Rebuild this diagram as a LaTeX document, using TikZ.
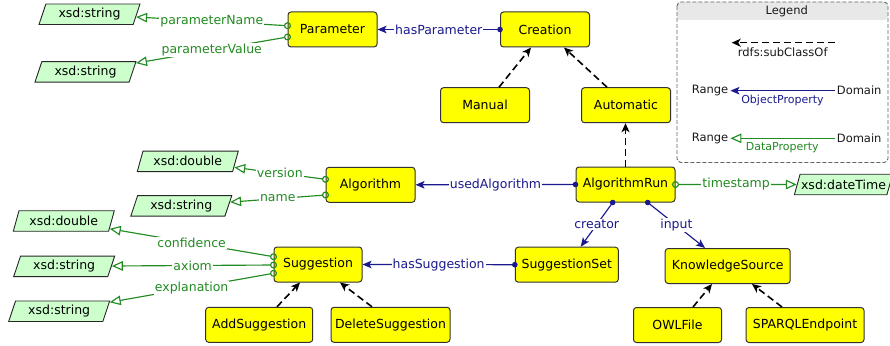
\documentclass[tikz,border=0pt]{standalone}
\usepackage{fontspec}
\setmainfont{DejaVu Sans}
\usetikzlibrary{arrows.meta,shapes.geometric}

\definecolor{classfill}{RGB}{255,255,0}
\definecolor{classdraw}{RGB}{50,50,50}
\definecolor{dtfill}{RGB}{204,255,204}
\definecolor{objcol}{RGB}{26,26,140}
\definecolor{datcol}{RGB}{34,139,34}
\definecolor{legframe}{RGB}{100,100,100}
\definecolor{legband}{RGB}{232,232,232}

\newcommand{\mainfs}{\fontsize{12.5}{15}\selectfont}
\newcommand{\legfs}{\fontsize{11.5}{14}\selectfont}
\newcommand{\legsm}{\fontsize{11}{13}\selectfont}

\tikzset{
  cls/.style={draw=classdraw, fill=classfill, rounded corners=3pt, line width=1pt,
    minimum height=35pt, inner sep=2pt, font=\mainfs},
  dtype/.style={trapezium, trapezium left angle=64, trapezium right angle=116,
    trapezium stretches body, draw=black!85, fill=dtfill, line width=0.9pt,
    minimum width=101pt, minimum height=20.5pt, inner sep=1pt, font=\mainfs},
  objprop/.style={draw=objcol, line width=1.15pt,
    arrows={Circle[length=5.5pt]-Stealth[length=9pt,width=7.5pt,inset=2pt]},
    shorten <=-2.75pt},
  datprop/.style={draw=datcol, line width=1.15pt,
    arrows={Circle[open,length=7pt]-Triangle[open,length=11pt,width=9.5pt]},
    shorten <=-3.5pt},
  subcl/.style={draw=black, line width=1.6pt, dash pattern=on 7pt off 4pt,
    -{Stealth[length=9pt,width=8pt,inset=2.5pt]}},
  lbl/.style={fill=white, inner sep=1pt, font=\mainfs},
  objlbl/.style={lbl, text=objcol},
  datlbl/.style={lbl, text=datcol},
  legtxt/.style={inner sep=2pt, font=\legfs, text=black!90},
}

\begin{document}
\begin{tikzpicture}[x=1pt,y=-1pt]
\useasboundingbox (0,0) rectangle (890,345);

% legend frame
\fill[legband] (677,20) [rounded corners=4pt] |- (782,2) -| (888,20) [sharp corners] -- cycle;
\draw[legframe, line width=0.9pt, dash pattern=on 4pt off 2pt, rounded corners=4pt] (677,2) rectangle (888,162.5);
\node[legtxt] (legT) at (786.7,11) {Legend};

\coordinate (lsA) at (835,42.7);
\coordinate (lsB) at (731.7,42.7);
\draw[subcl] (lsA) -- (lsB);
\node[legtxt] (lsL) at (782.7,52.3) {rdfs:subClassOf};

\node[legtxt] (lR1) at (710,90.7) {Range};
\node[legtxt] (lD1) at (859.2,90.7) {Domain};
\draw[draw=objcol, line width=1.15pt, -{Stealth[length=9pt,width=7.5pt,inset=2pt]}] (lD1) -- (lR1);
\node[inner sep=1pt, font=\legsm, text=objcol] (lO) at (782.5,100) {ObjectProperty};

\node[legtxt] (lR2) at (710,138.3) {Range};
\node[legtxt] (lD2) at (859.2,138.3) {Domain};
\draw[draw=datcol, line width=1.15pt, -{Triangle[open,length=11pt,width=9.5pt]}] (lD2) -- (lR2);
\node[inner sep=1pt, font=\legsm, text=datcol] (lDP) at (782.3,147.7) {DataProperty};

% classes
\node[cls, minimum width=89pt] (Parameter) at (332.5,29.5) {Parameter};
\node[cls, minimum width=89pt] (Creation) at (545,29.5) {Creation};
\node[cls, minimum width=89pt] (Manual) at (485,105.2) {Manual};
\node[cls, minimum width=89pt] (Automatic) at (626,105.2) {Automatic};
\node[cls, minimum width=99pt] (AlgorithmRun) at (625.5,184.5) {AlgorithmRun};
\node[cls, minimum width=89pt] (Algorithm) at (370.5,184.8) {Algorithm};
\node[cls, minimum width=88pt] (Suggestion) at (318,264.5) {Suggestion};
\node[cls, minimum width=103pt] (SuggestionSet) at (566.8,264.7) {SuggestionSet};
\node[cls, minimum width=125pt] (KnowledgeSource) at (727.7,266) {KnowledgeSource};
\node[cls, minimum width=107pt] (AddSuggestion) at (259.2,324.8) {AddSuggestion};
\node[cls, minimum width=119pt] (DeleteSuggestion) at (390.5,324.8) {DeleteSuggestion};
\node[cls, minimum width=88pt] (OWLFile) at (677.5,325) {OWLFile};
\node[cls, minimum width=118pt] (SPARQLEndpoint) at (805,325) {SPARQLEndpoint};

% datatypes
\node[dtype] (dsPN) at (89.5,14.3) {xsd:string};
\node[dtype] (dsPV) at (85.5,71.8) {xsd:string};
\node[dtype] (dsVer) at (187.8,161.3) {xsd:double};
\node[dtype] (dsName) at (181.3,205.8) {xsd:string};
\node[dtype] (dsConf) at (63.8,221) {xsd:double};
\node[dtype] (dsAx) at (64.2,266.3) {xsd:string};
\node[dtype] (dsExpl) at (59.2,311.2) {xsd:string};
\node[dtype, minimum width=94pt] (dsDT) at (843.5,184.5) {xsd:dateTime};

% subclass relations
\draw[subcl] (Manual.north -| 499,0) -- (Creation.south -| 531,0);
\draw[subcl] (Automatic.north -| 607,0) -- (Creation.south -| 564,0);
\draw[subcl] (AlgorithmRun.north) -- (AlgorithmRun.north |- Automatic.south);
\draw[subcl] (AddSuggestion.north -| 277,0) -- (Suggestion.south -| 300,0);
\draw[subcl] (DeleteSuggestion.north -| 372,0) -- (Suggestion.south -| 340,0);
\draw[subcl] (OWLFile.north -| 693,0) -- (KnowledgeSource.south -| 712,0);
\draw[subcl] (SPARQLEndpoint.north -| 782,0) -- (KnowledgeSource.south -| 752,0);

% object properties
\draw[objprop] (Creation.west) -- node[objlbl] {hasParameter} (Parameter.east);
\draw[objprop] (AlgorithmRun.west) -- node[objlbl] {usedAlgorithm} (Algorithm.east);
\draw[objprop] (SuggestionSet.west) -- node[objlbl] {hasSuggestion} (Suggestion.east);
\draw[objprop] (AlgorithmRun.south -| 612.7,0) -- node[objlbl] {creator} (SuggestionSet.north -| 580.7,0);
\draw[objprop] (AlgorithmRun.south -| 647.7,0) -- node[objlbl] {input} (KnowledgeSource.north -| 705,0);

% data properties
\draw[datprop] (Parameter.west |- 0,25.7) -- node[datlbl] {parameterName} (dsPN);
\draw[datprop] (Parameter.west |- 0,37) -- node[datlbl] {parameterValue} (dsPV);
\draw[datprop] (Algorithm.west |- 0,179.3) -- node[datlbl] {version} (dsVer);
\draw[datprop] (Algorithm.west |- 0,195) -- node[datlbl] {name} (dsName);
\draw[datprop] (Suggestion.west |- 0,256.7) -- node[datlbl] {confidence} (dsConf);
\draw[datprop] (Suggestion.west |- 0,265) -- node[datlbl] {axiom} (dsAx);
\draw[datprop] (Suggestion.west |- 0,273.3) -- node[datlbl] {explanation} (dsExpl);
\draw[datprop] (AlgorithmRun.east) -- node[datlbl] {timestamp} (dsDT);
\end{tikzpicture}
\end{document}
